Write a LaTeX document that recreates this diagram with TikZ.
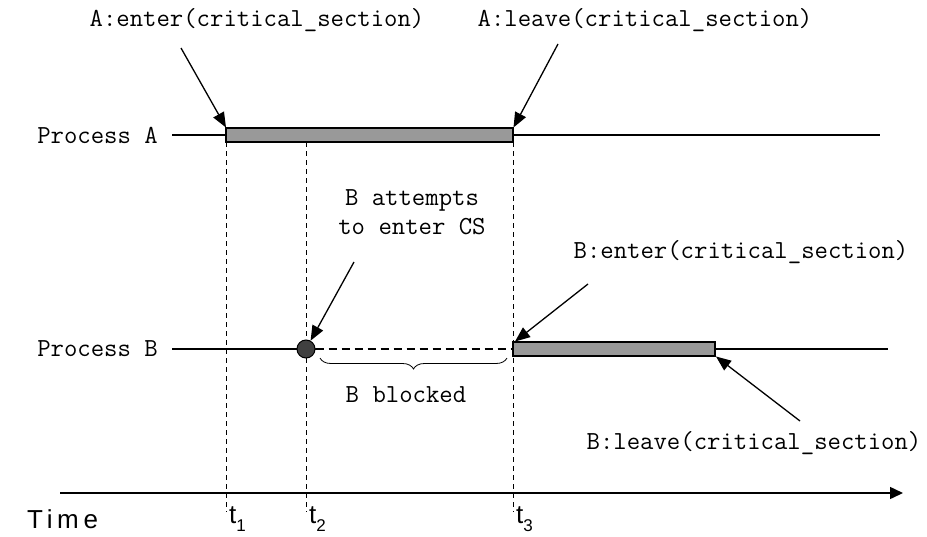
\documentclass[tikz,border=0pt]{standalone}
\usepackage{fontspec}
\usetikzlibrary{arrows.meta,decorations.pathreplacing}
\newfontfamily\sansfont{Liberation Sans}
\newfontfamily\timefont[LetterSpace=18]{Liberation Sans}
\newcommand{\tsub}[1]{t\raisebox{-0.32em}{\fontsize{17}{17}\selectfont #1}}
\tikzset{
  lbl/.style={inner sep=0pt, font=\ttfamily\fontsize{26}{29}\selectfont},
  tlbl/.style={inner sep=0pt, anchor=west, font=\sansfont\fontsize{26}{30}\selectfont},
  procline/.style={line width=1.5pt},
  csbar/.style={draw=black, line width=1.2pt, fill=barGray},
  ptr/.style={line width=1.3pt, -{Triangle[length=15pt,width=12pt]}},
  tick/.style={line width=0.8pt, dash pattern=on 5pt off 4pt},
  waitline/.style={line width=1.3pt, dash pattern=on 8pt off 5pt},
}
\definecolor{barGray}{HTML}{999999}
\definecolor{dotGray}{HTML}{404040}
\begin{document}
\begin{tikzpicture}[x=1pt,y=-1pt]
\useasboundingbox (0,0) rectangle (927,536);

% time ticks
\coordinate (t1top) at (226,142); \coordinate (t1bot) at (226,512);
\coordinate (t2top) at (306,142); \coordinate (t2bot) at (306,512);
\coordinate (t3top) at (513,142); \coordinate (t3bot) at (513,512);
\draw[tick] (t1top) -- (t1bot);
\draw[tick] (t2top) -- (t2bot);
\draw[tick] (t3top) -- (t3bot);

% Process A
\node[lbl, anchor=east] (pa) at (158,135) {Process A};
\coordinate (pastart) at (172,135);
\coordinate (paend) at (880,135);
\draw[procline] (pastart) -- (paend);
\coordinate (abarNW) at (226,128);
\coordinate (abarSE) at (513,142);
\draw[csbar] (abarNW) rectangle (abarSE);

% Process B
\node[lbl, anchor=east] (pb) at (158,349) {Process B};
\coordinate (pbstart) at (172,349);
\coordinate (pbend) at (888,349);
\coordinate (bbarW) at (513,349);
\draw[procline] (pbstart) -- (pbend);
\node[circle, draw=black, line width=1pt, fill=dotGray, minimum size=18pt, inner sep=0pt] (dot) at (306,349) {};
\draw[white, line width=3pt] (dot.east) -- (bbarW);
\draw[waitline] (dot.east) -- (bbarW);
\coordinate (bbarNW) at (513,342);
\coordinate (bbarSE) at (715,356);
\draw[csbar] (bbarNW) rectangle (bbarSE);

% labels and pointers
\node[lbl] (aenter) at (257,20) {A:enter(critical\_section)};
\coordinate (aentertail) at (181,48);
\draw[ptr] (aentertail) -- (226,127.5);

\node[lbl] (aleave) at (645,20) {A:leave(critical\_section)};
\coordinate (aleavetail) at (558,44);
\draw[ptr] (aleavetail) -- (513.5,127.5);

\node[lbl, align=center] (battempt) at (412,212) {B attempts\\to enter CS};
\coordinate (battempttail) at (354,262);
\draw[ptr] (battempttail) -- (dot);

\node[lbl] (benter) at (741,252) {B:enter(critical\_section)};
\coordinate (bentertail) at (588,284);
\draw[ptr] (bentertail) -- (515,341.5);

\node[lbl] (bleave) at (754,443) {B:leave(critical\_section)};
\coordinate (bleavetail) at (800,421);
\draw[ptr] (bleavetail) -- (716,356.5);

% brace
\coordinate (brL) at (320,358);
\coordinate (brR) at (507,358);
\draw[line width=0.8pt, decorate, decoration={brace, mirror, amplitude=11pt}] (brL) -- (brR);
\node[lbl] (blocked) at (406,395) {B blocked};

% time axis
\coordinate (axstart) at (60,493);
\coordinate (axend) at (903,493);
\draw[line width=1.5pt, -{Triangle[length=13pt,width=12pt]}] (axstart) -- (axend);
\node[tlbl, font=\timefont\fontsize{26}{30}\selectfont] (time) at (27,519) {Time};
\node[tlbl] (tl1) at (229,519) {\tsub{1}};
\node[tlbl] (tl2) at (309,519) {\tsub{2}};
\node[tlbl] (tl3) at (516,519) {\tsub{3}};
\end{tikzpicture}
\end{document}
